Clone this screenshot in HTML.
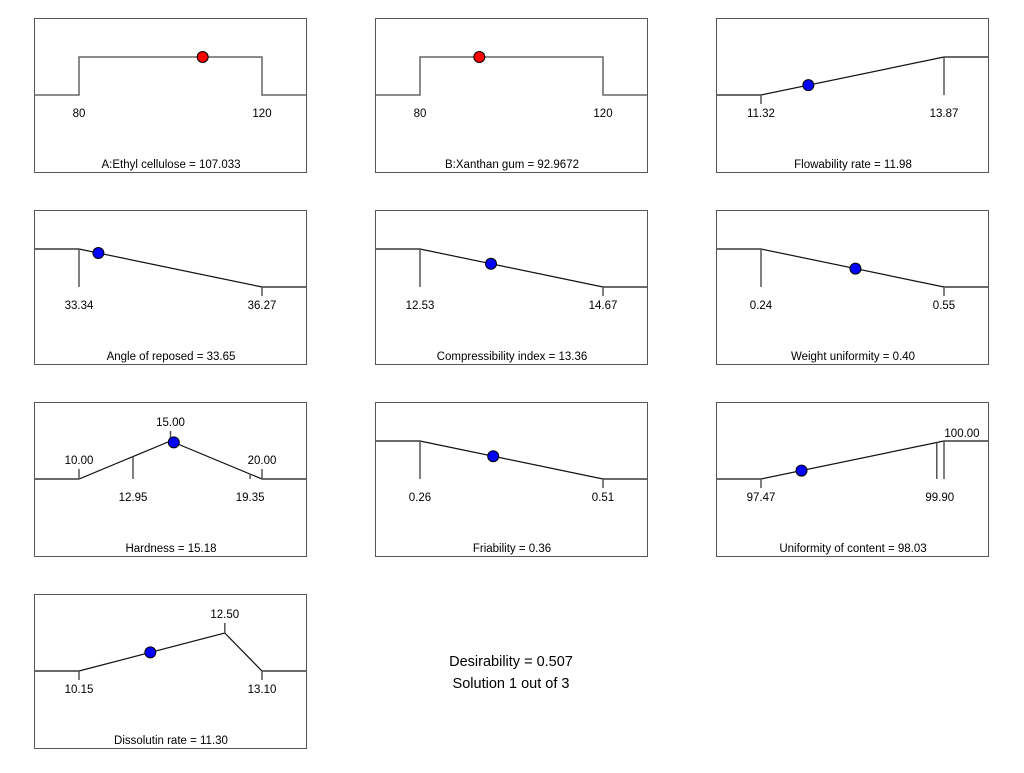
<!DOCTYPE html>
<html><head><meta charset="utf-8"><style>
html,body{margin:0;padding:0;background:#fff;}
svg text{font-family:"Liberation Sans",sans-serif;font-size:11.5px;fill:#000;}
</style></head><body>
<svg id="chart" width="1024" height="768" xmlns="http://www.w3.org/2000/svg">
<text x="511" y="666" text-anchor="middle" style="font-size:14.5px">Desirability = 0.507</text>
<text x="511" y="688" text-anchor="middle" style="font-size:14.5px">Solution 1 out of 3</text>
</svg>
<script>
// data arrays
const panelNames = ["A:Ethyl cellulose","B:Xanthan gum","Flowability rate","Angle of reposed","Compressibility index","Weight uniformity","Hardness","Friability","Uniformity of content","Dissolutin rate"];
const panelValueText = ["107.033","92.9672","11.98","33.65","13.36","0.40","15.18","0.36","98.03","11.30"];
const currentValues = [107.033,92.9672,11.98,33.65,13.36,0.40,15.18,0.36,98.03,11.30];
const scaleLo = [80,80,11.32,33.34,12.53,0.24,10,0.26,97.47,10.15];
const scaleHi = [120,120,13.87,36.27,14.67,0.55,20,0.51,100,13.10];
const rampValues = [[80,80,120,120],[80,80,120,120],[11.32,13.87],[33.34,36.27],[12.53,14.67],[0.24,0.55],[10,15,20],[0.26,0.51],[97.47,100],[10.15,12.5,13.1]];
const rampDesir = [[0,1,1,0],[0,1,1,0],[0,1],[1,0],[1,0],[1,0],[0,1,0],[1,0],[0,1],[0,1,0]];
const tickValues = [[80,120],[80,120],[11.32,13.87],[33.34,36.27],[12.53,14.67],[0.24,0.55],[10,12.95,15,19.35,20],[0.26,0.51],[97.47,99.90,100],[10.15,12.5,13.1]];
const tickLabels = [["80","120"],["80","120"],["11.32","13.87"],["33.34","36.27"],["12.53","14.67"],["0.24","0.55"],["10.00","12.95","15.00","19.35","20.00"],["0.26","0.51"],["97.47","99.90","100.00"],["10.15","12.50","13.10"]];
const tickKinds = [["none","none"],["none","none"],["down","down"],["down","down"],["down","down"],["down","down"],["up","down","up","down","up"],["down","down"],["down","down","fullUp"],["down","up","down"]];
const isFactor = [true,true,false,false,false,false,false,false,false,false];

const svg = document.getElementById('chart');
const NS = 'http://www.w3.org/2000/svg';
const colX = [34,375,716], rowY = [18,210,402,594];
const W = 272, H = 154;
function mk(tag, attrs){const e=document.createElementNS(NS,tag);for(const k in attrs)e.setAttribute(k,attrs[k]);svg.appendChild(e);return e;}
function desir(i,v){const xs=rampValues[i],ds=rampDesir[i];
  if(v<=xs[0])return ds[0]; if(v>=xs[xs.length-1])return ds[ds.length-1];
  for(let k=0;k<xs.length-1;k++){if(v>=xs[k]&&v<=xs[k+1]){if(xs[k+1]===xs[k])return ds[k+1];return ds[k]+(ds[k+1]-ds[k])*(v-xs[k])/(xs[k+1]-xs[k]);}}
  return 0;}
panelNames.forEach((name,i)=>{
  const px=colX[i%3], py=rowY[Math.floor(i/3)];
  const sx=v=>px+45+(v-scaleLo[i])/(scaleHi[i]-scaleLo[i])*183;
  const sy=d=>py+77-d*38;
  const lc = isFactor[i]?'#666':'#111';
  const fr=mk('rect',{x:px+0.5,y:py+0.5,width:W,height:H,fill:'none',stroke:'#555','stroke-width':1});
  
  
  const xs=rampValues[i], ds=rampDesir[i];
  let pts=[[px+1,sy(ds[0])]];
  xs.forEach((v,k)=>pts.push([sx(v),sy(ds[k])]));
  pts.push([px+W,sy(ds[ds.length-1])]);
  const pl=mk('polyline',{points:pts.map(p=>p.join(',')).join(' '),fill:'none',stroke:lc,'stroke-width':isFactor[i]?1.5:1.2});
  
  
  const base=sy(0);
  tickValues[i].forEach((v,k)=>{
    const x=sx(v), kind=tickKinds[i][k], yd=sy(desir(i,v));
    let y1,y2,ly;
    if(kind==='none'){ly=base+22;}
    else if(kind==='down'){ if(yd<base-1){y1=yd;y2=base;}else{y1=base;y2=base+9;} ly=base+22;}
    else if(kind==='up'){y1=yd;y2=yd-10;ly=yd-15;}
    else {y1=yd;y2=base;ly=yd-4;}
    if(kind!=='none'){const t=mk('line',{x1:x,y1:y1,x2:x,y2:y2,stroke:'#555','stroke-width':1.5});
      
      }
    let lx=x; if(kind==='fullUp')lx=x+18;
    if(tickValues[i][k]===99.90)lx=x+3;
    const tl=mk('text',{x:lx,y:ly,'text-anchor':'middle'}); tl.textContent=tickLabels[i][k];
    
    
  });
  const cv=currentValues[i];
  const dot=mk('circle',{cx:sx(cv),cy:sy(desir(i,cv)),r:5.5,fill:isFactor[i]?'#f00':'#00f',stroke:'#000','stroke-width':1});
  
  
  const tt=mk('text',{x:px+W/2+1,y:py+150,'text-anchor':'middle'}); tt.textContent=name+' = '+panelValueText[i];
  
  
});
</script>
</body></html>
